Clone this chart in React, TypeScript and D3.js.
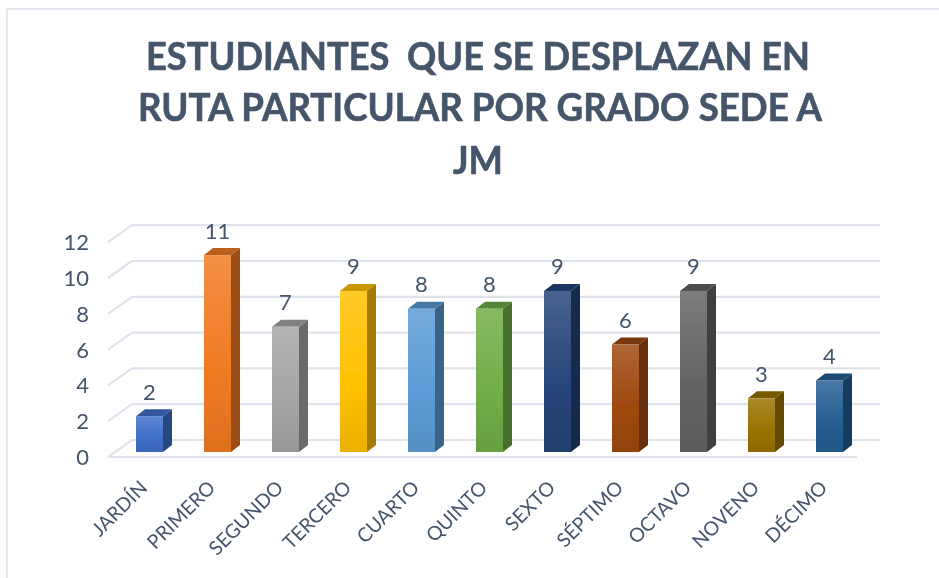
import React from "react";
import * as d3 from "d3";

const titleLines = ["ESTUDIANTES  QUE SE DESPLAZAN EN", "RUTA PARTICULAR POR GRADO SEDE A", "JM"];
const categories = ["JARDÍN", "PRIMERO", "SEGUNDO", "TERCERO", "CUARTO", "QUINTO", "SEXTO", "SÉPTIMO", "OCTAVO", "NOVENO", "DÉCIMO"];
const values = [2, 11, 7, 9, 8, 8, 9, 6, 9, 3, 4];
const barColors = ["#3F6FC8", "#F07A22", "#A5A5A5", "#FFC000", "#5B9BD5", "#70AD47", "#264478", "#9E480E", "#636363", "#997300", "#255E91"];
const yTicks = [0, 2, 4, 6, 8, 10, 12];

const TEXT = "#44546A";
const GRID = "#DFE3EB";
const FONT = "Lato, 'Noto Sans', sans-serif";

const x = d3.scaleBand<string>().domain(categories).range([136, 843]).paddingInner(0.603).paddingOuter(0);
const y = d3.scaleLinear().domain([0, 12]).range([457, 242.2]);

const wallDx = 24;
const wallDy = -17;
const barLift = -5;
const depthDx = 9;
const depthDy = -7;

const titleSpec = [
  { x: 146, w: 664, base: 69.5 },
  { x: 138, w: 684, base: 120.5 },
  { x: 453, w: 50, base: 173.5 },
];

const mix = (c: string, t: string, k: number) => d3.interpolateRgb(c, t)(k);

export default function App() {
  return (
    <svg
      width={939}
      height={578}
      viewBox="0 0 939 578"
      style={{ position: "fixed", left: 0, top: 0, background: "#fff" }}
    >
      <defs>
        <filter id="soft" x="0" y="0" width="100%" height="100%">
          <feGaussianBlur stdDeviation="0.6" />
        </filter>
        {barColors.map((c, i) => (
          <linearGradient key={i} id={`face${i}`} x1="0" y1="0" x2="0" y2="1">
            <stop offset="0" stopColor={mix(c, "#ffffff", 0.16)} />
            <stop offset="0.6" stopColor={c} />
            <stop offset="1" stopColor={mix(c, "#000000", 0.08)} />
          </linearGradient>
        ))}
      </defs>
      <g filter="url(#soft)">
        <path d="M6.5 578V8.5H939" fill="none" stroke={GRID} strokeWidth={2.5} />

        {titleLines.map((t, i) => (
          <text
            key={t}
            x={titleSpec[i].x}
            y={titleSpec[i].base}
            textLength={titleSpec[i].w}
            lengthAdjust="spacingAndGlyphs"
            fontFamily={FONT}
            fontWeight={700}
            fontSize={37.5}
            fill={TEXT}
            stroke={TEXT}
            strokeWidth={0.6}
            style={{ whiteSpace: "pre" }}
          >
            {t}
          </text>
        ))}

        {yTicks.map((v) => (
          <g key={v}>
            {v > 0 && (
              <line x1={108 + wallDx} x2={880} y1={y(v) + wallDy} y2={y(v) + wallDy} stroke={GRID} strokeWidth={2.2} />
            )}
            <line x1={108} x2={108 + wallDx} y1={y(v)} y2={y(v) + wallDy} stroke={GRID} strokeWidth={2.2} />
          </g>
        ))}
        <line x1={132} x2={880} y1={y(0) + wallDy} y2={y(0) + wallDy} stroke={GRID} strokeWidth={2.2} />
        <line x1={108} x2={857} y1={y(0)} y2={y(0)} stroke={GRID} strokeWidth={2.2} />

        {yTicks.map((v) => (
          <text key={v} x={89} y={y(v) + 8} textAnchor="end" fontFamily={FONT} fontSize={22} fill={TEXT}>
            {v}
          </text>
        ))}

        {categories.map((c, i) => {
          const left = x(c) as number;
          const w = x.bandwidth();
          const top = y(values[i]) + barLift;
          const bottom = y(0) + barLift;
          const col = barColors[i];
          return (
            <g key={c}>
              <path
                d={`M${left + w} ${top}L${left + w + depthDx} ${top + depthDy}V${bottom + depthDy}L${left + w} ${bottom}Z`}
                fill={mix(col, "#000000", 0.36)}
              />
              <path
                d={`M${left} ${top}L${left + depthDx} ${top + depthDy}H${left + w + depthDx}L${left + w} ${top}Z`}
                fill={mix(col, "#000000", 0.22)}
              />
              <rect x={left} y={top} width={w} height={bottom - top} fill={`url(#face${i})`} />
              <text
                x={left + w / 2}
                y={top - 16.5}
                textAnchor="middle"
                fontFamily={FONT}
                fontSize={22}
                fill={TEXT}
              >
                {values[i]}
              </text>
              <text
                transform={`translate(${left + w / 2 - 1},${489}) rotate(-45)`}
                textAnchor="end"
                fontFamily={FONT}
                fontSize={19.5}
                fill={TEXT}
              >
                {c}
              </text>
            </g>
          );
        })}
      </g>
    </svg>
  );
}
